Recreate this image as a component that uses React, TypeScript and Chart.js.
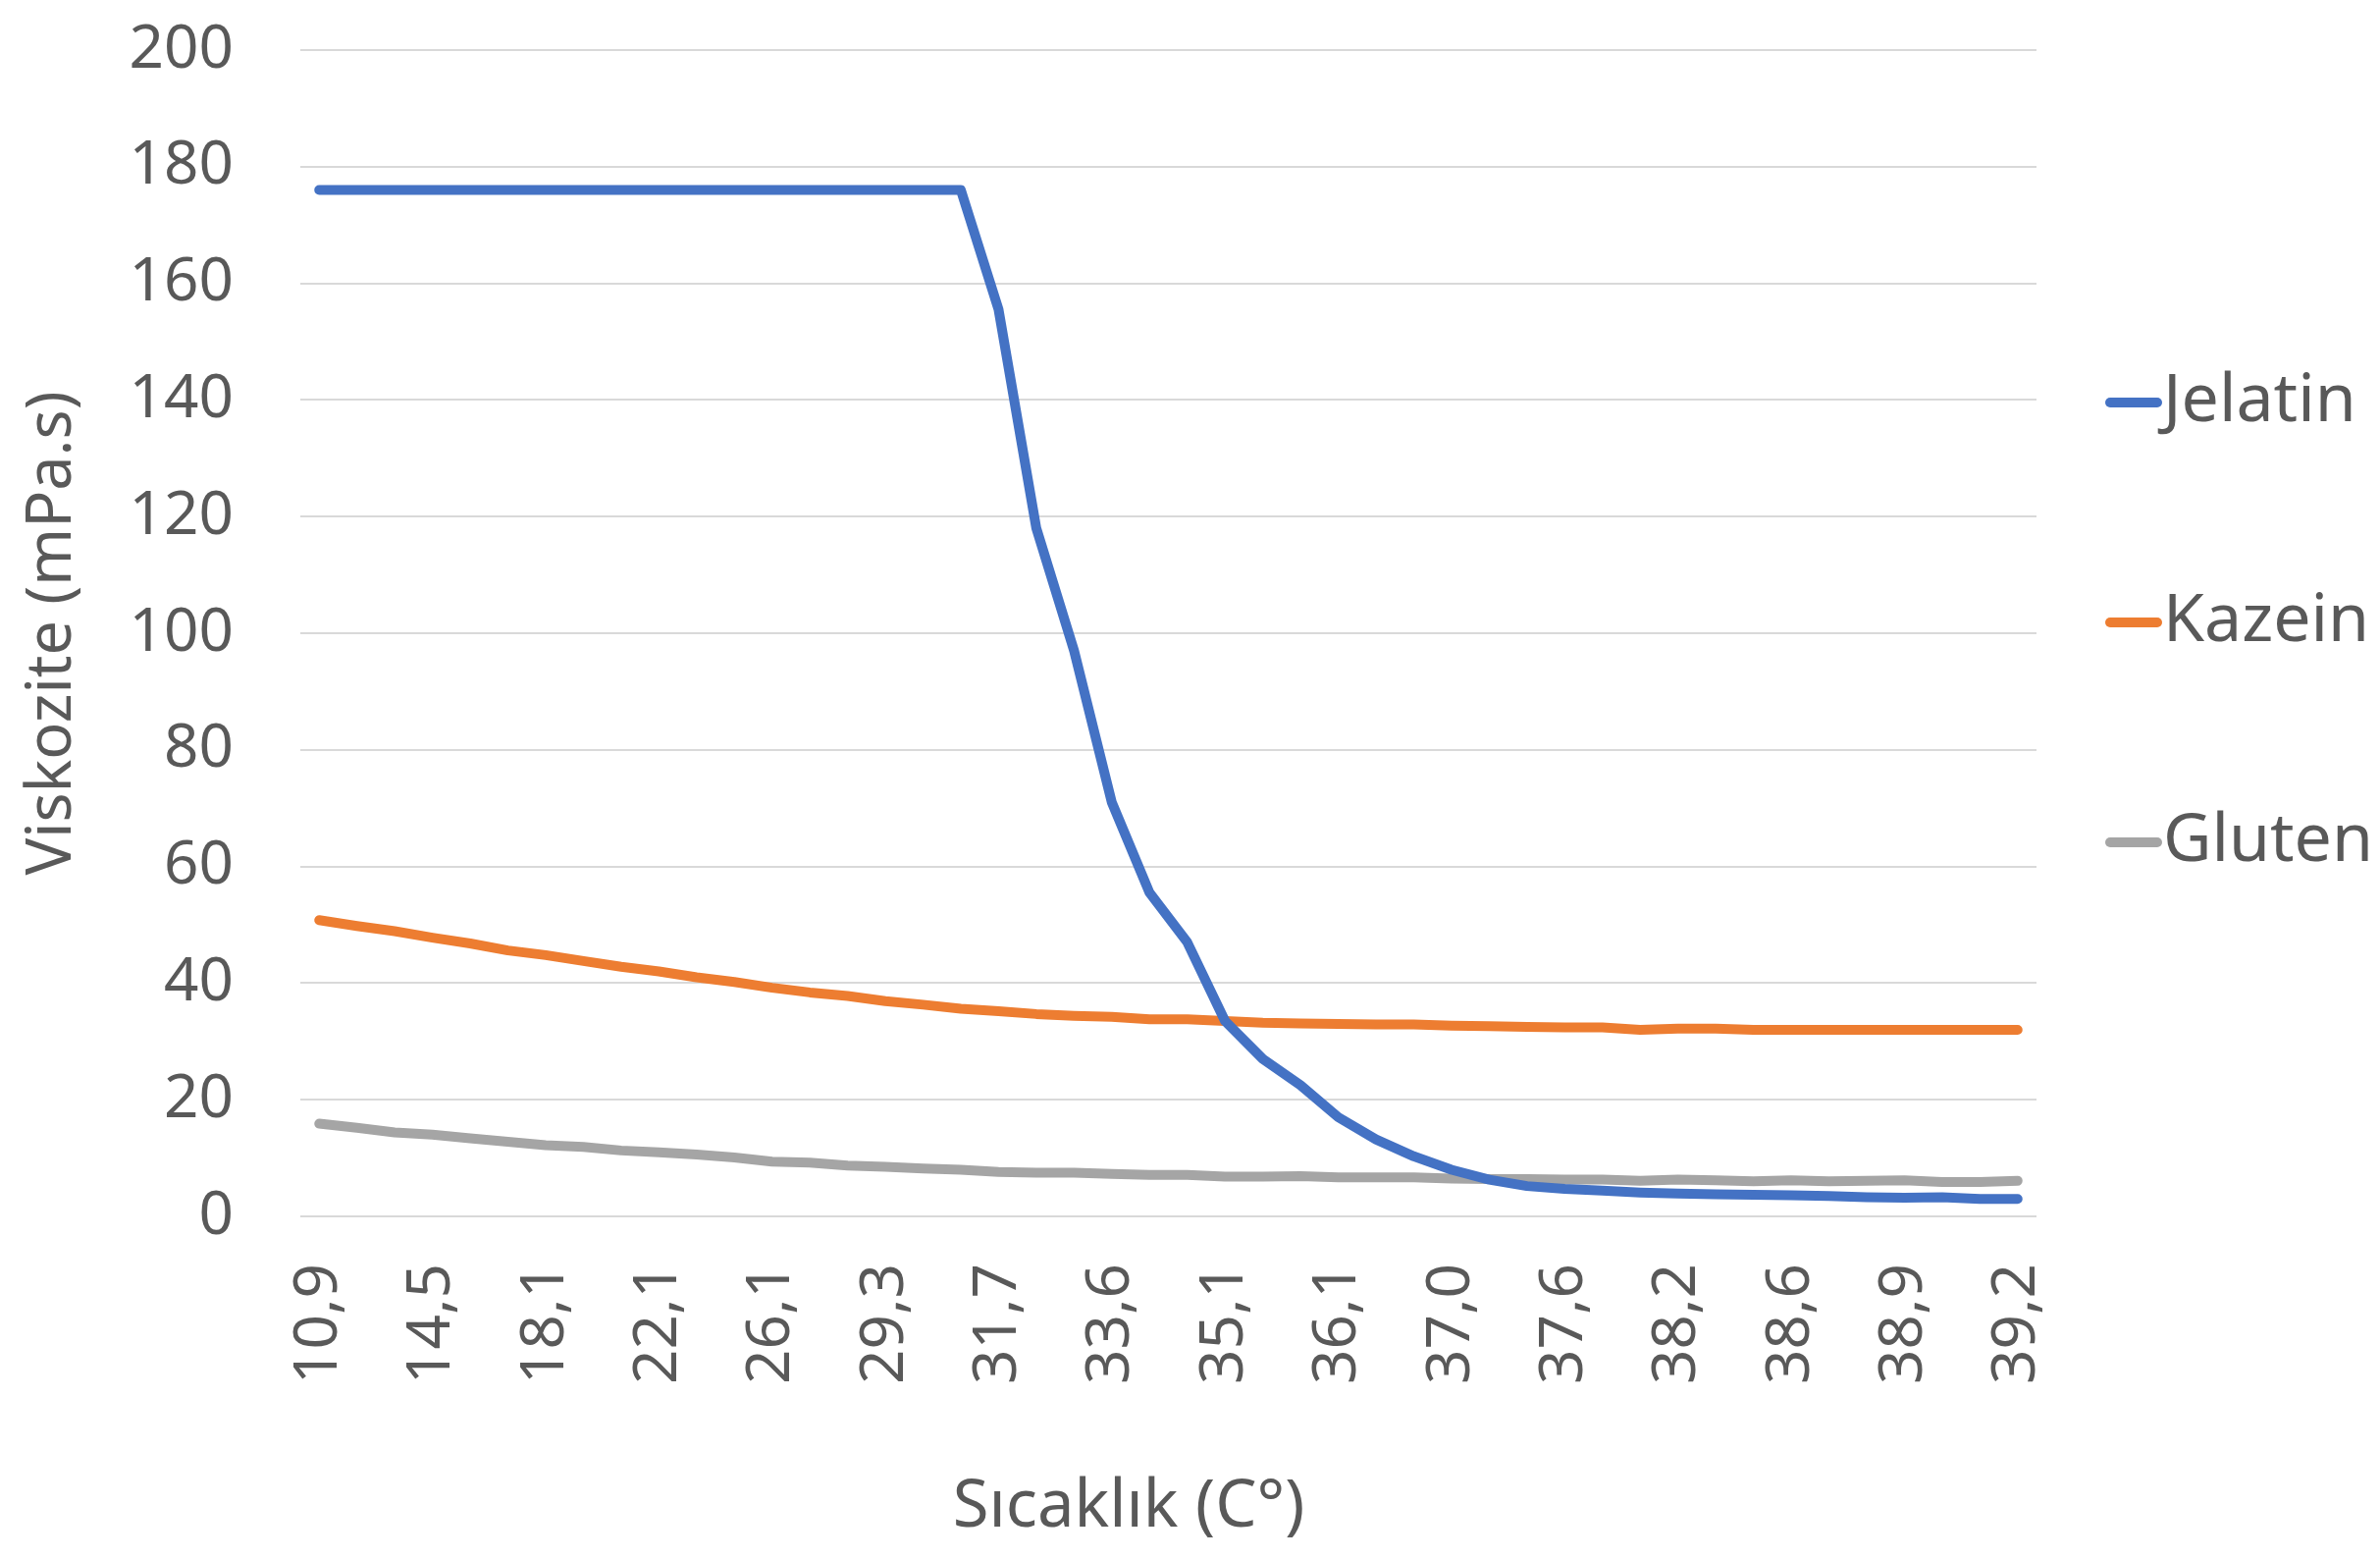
import React, { useEffect, useRef } from "react";
import { Chart, registerables } from "chart.js";

Chart.register(...registerables);

const temperatures = [
  "10,9", "12,1", "13,3", "14,5", "15,7", "16,9", "18,1", "19,4", "20,8", "22,1",
  "23,4", "24,8", "26,1", "27,2", "28,2", "29,3", "30,1", "30,9", "31,7", "32,3",
  "33,0", "33,6", "34,1", "34,6", "35,1", "35,4", "35,8", "36,1", "36,4", "36,7",
  "37,0", "37,2", "37,4", "37,6", "37,8", "38,0", "38,2", "38,3", "38,5", "38,6",
  "38,7", "38,8", "38,9", "39,0", "39,1", "39,2",
];

const jelatin = [
  176, 176, 176, 176, 176, 176, 176, 176, 176, 176,
  176, 176, 176, 176, 176, 176, 176, 176, 155.5, 118,
  97, 71, 55.5, 47, 33.5, 27, 22.5, 17, 13.2, 10.3,
  8.0, 6.3, 5.2, 4.7, 4.4, 4.1, 3.9, 3.8, 3.7, 3.6,
  3.5, 3.3, 3.2, 3.3, 3.0, 3.0,
];

const kazein = [
  50.8, 49.8, 48.9, 47.8, 46.8, 45.6, 44.8, 43.8, 42.8, 42.0,
  41.0, 40.2, 39.2, 38.4, 37.8, 36.9, 36.3, 35.6, 35.2, 34.7,
  34.4, 34.2, 33.8, 33.8, 33.5, 33.2, 33.1, 33.0, 32.9, 32.9,
  32.7, 32.6, 32.5, 32.4, 32.4, 32.0, 32.2, 32.2, 32.0, 32.0,
  32.0, 32.0, 32.0, 32.0, 32.0, 32.0,
];

const gluten = [
  15.9, 15.2, 14.4, 14.0, 13.4, 12.8, 12.2, 11.9, 11.3, 11.0,
  10.6, 10.1, 9.4, 9.2, 8.7, 8.5, 8.2, 8.0, 7.6, 7.5,
  7.5, 7.3, 7.1, 7.1, 6.8, 6.8, 6.9, 6.7, 6.7, 6.7,
  6.5, 6.4, 6.4, 6.3, 6.3, 6.1, 6.3, 6.2, 6.0, 6.2,
  6.0, 6.1, 6.2, 5.9, 5.9, 6.1,
];

const seriesNames = ["Jelatin", "Kazein", "Gluten"];
const seriesColors = ["#4472C4", "#ED7D31", "#A5A5A5"];
const xTitle = "Sıcaklık (C°)";
const yTitle = "Viskozite (mPa.s)";

const FONT = "'Noto Sans', 'DejaVu Sans', sans-serif";
const TEXT = "#595959";

const overlayPlugin = {
  id: "overlay",
  afterDraw(chart: any) {
    const ctx = chart.ctx;
    ctx.save();
    ctx.fillStyle = TEXT;
    ctx.font = `67px ${FONT}`;
    ctx.textAlign = "center";
    ctx.textBaseline = "middle";
    ctx.fillText(xTitle, 1150, 1536);
    const ys = [410, 634, 858];
    chart.data.datasets.forEach((ds: any, i: number) => {
      const y = ys[i];
      ctx.strokeStyle = ds.borderColor;
      ctx.lineWidth = 10;
      ctx.lineCap = "round";
      ctx.beginPath();
      ctx.moveTo(2150, y);
      ctx.lineTo(2198, y);
      ctx.stroke();
      ctx.fillStyle = TEXT;
      ctx.font = `68px ${FONT}`;
      ctx.textAlign = "left";
      ctx.textBaseline = "middle";
      ctx.fillText(ds.label, 2204, y);
    });
    ctx.restore();
  },
};

export default function App() {
  const ref = useRef<HTMLCanvasElement | null>(null);
  useEffect(() => {
    if (!ref.current) return;
    const mk = (i: number, data: number[]) => ({
      label: seriesNames[i],
      data,
      borderColor: seriesColors[i],
      backgroundColor: seriesColors[i],
      borderWidth: 10,
      pointRadius: 0,
      borderCapStyle: "round",
      borderJoinStyle: "round",
      tension: 0,
      fill: false,
    });
    const chart = new Chart(ref.current, {
      type: "line",
      data: {
        labels: temperatures,
        datasets: [mk(0, jelatin), mk(1, kazein), mk(2, gluten)] as any,
      },
      plugins: [overlayPlugin],
      options: {
        responsive: false,
        animation: false,
        layout: { padding: { left: 0, top: 51, right: 350, bottom: 0 } },
        plugins: {
          legend: { display: false },
          tooltip: { enabled: false },
        },
        scales: {
          x: {
            type: "category",
            offset: true,
            grid: { display: false, drawTicks: false },
            border: { display: false },
            ticks: {
              autoSkip: false,
              maxRotation: 90,
              minRotation: 90,
              padding: 48,
              color: TEXT,
              font: { family: FONT, size: 62 },
              callback: function (this: any, _v: any, index: number) {
                return index % 3 === 0 ? temperatures[index] : "";
              },
            },
            afterFit: (scale: any) => {
              scale.height = 1588 - 1239;
              scale.paddingLeft = 0;
              scale.paddingRight = 0;
            },
          },
          y: {
            min: 0,
            max: 200,
            grid: { color: "#D9D9D9", lineWidth: 2, drawTicks: false },
            border: { display: false },
            ticks: {
              stepSize: 20,
              padding: 68,
              color: TEXT,
              font: { family: FONT, size: 62 },
            },
            title: {
              display: true,
              text: yTitle,
              color: TEXT,
              font: { family: FONT, size: 63 },
              padding: { top: 16, bottom: 0 },
            },
            afterFit: (scale: any) => {
              scale.width = 306;
              scale.paddingTop = 0;
              scale.paddingBottom = 0;
            },
          },
        },
      } as any,
    });
    return () => chart.destroy();
  }, []);
  return (
    <div style={{ position: "fixed", left: 0, top: 0, width: 2425, height: 1588, background: "#fff" }}>
      <canvas ref={ref} width={2425} height={1588} style={{ width: 2425, height: 1588, display: "block" }} />
    </div>
  );
}
